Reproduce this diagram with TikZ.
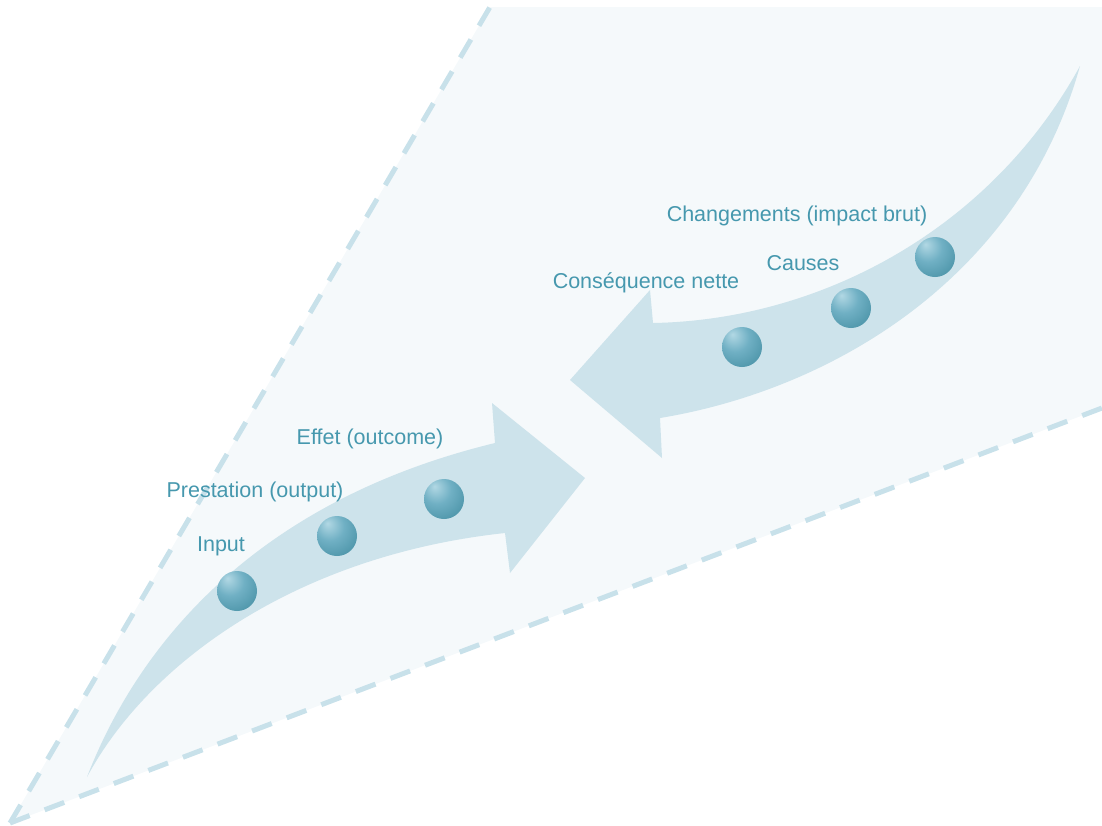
\documentclass[tikz,border=0pt]{standalone}
\usepackage{fontspec}
\setmainfont{Liberation Sans}
\definecolor{bgfill}{RGB}{245,249,251}
\definecolor{dashc}{RGB}{200,225,234}
\definecolor{bandc}{RGB}{205,227,235}
\definecolor{txtc}{RGB}{70,152,174}
\definecolor{bhi}{RGB}{178,216,228}
\definecolor{bmid}{RGB}{112,176,196}
\definecolor{bdark}{RGB}{58,134,154}
\pgfdeclareradialshading{ballsh}{\pgfpoint{-12bp}{16bp}}{color(0bp)=(bhi); color(18bp)=(bmid); color(48bp)=(bdark); color(75bp)=(bdark)}
\tikzset{
  lbl/.style={text=txtc, font=\fontsize{21.5}{26}\selectfont, inner sep=0pt},
  ball/.style={circle, minimum size=40pt, inner sep=0pt, shading=ballsh},
  band/.style={fill=bandc, draw=none},
  wedgeedge/.style={draw=dashc, line width=5pt, dash pattern=on 21pt off 16pt},
}
\begin{document}
\begin{tikzpicture}[x=1pt,y=-1pt]
\useasboundingbox (0,0) rectangle (1102,825);
% background wedge
\fill[bgfill] (10,823) -- (490,7) -- (1102,7) -- (1102,408) -- cycle;
\coordinate (apex) at (10,823);
\coordinate (topend) at (490,7);
\coordinate (rightend) at (1102,408);
\draw[wedgeedge] (apex) -- (topend);
\draw[wedgeedge] (apex) -- (rightend);
% lower arrow
\fill[band] (87,777) .. controls (140,640) and (260,500) .. (495,443) -- (492,403) -- (585,478) -- (510,573) -- (505,533) .. controls (300,555) and (150,660) .. (87,777) -- cycle;
% upper arrow
\fill[band] (1080,66) .. controls (990,230) and (820,320) .. (653,323) -- (650,290) -- (570,380) -- (662,458) -- (660,418) .. controls (830,390) and (1020,280) .. (1080,66) -- cycle;
% balls
\node[ball] (input) at (237,591) {};
\node[ball] (prest) at (337,536) {};
\node[ball] (effet) at (444,499) {};
\node[ball] (cons) at (742,347) {};
\node[ball] (causes) at (851,308) {};
\node[ball] (chang) at (935,257) {};
% labels
\node[lbl] (linput) at (221,546) {Input};
\node[lbl] (lprest) at (255,492) {Prestation (output)};
\node[lbl] (leffet) at (370,439) {Effet (outcome)};
\node[lbl] (lcons) at (646,283) {Conséquence nette};
\node[lbl] (lcauses) at (803,263) {Causes};
\node[lbl] (lchang) at (797,216) {Changements (impact brut)};
\end{tikzpicture}
\end{document}
